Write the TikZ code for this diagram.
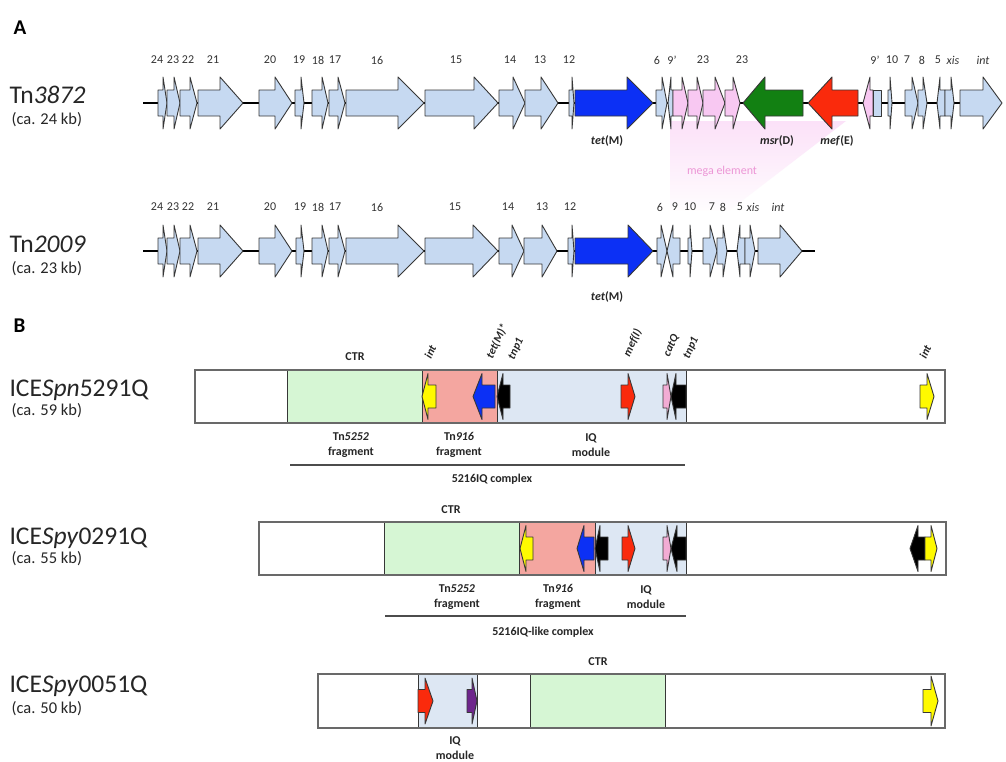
\documentclass[tikz,border=0pt]{standalone}
\usepackage{fontspec}
\setmainfont{Carlito}
\definecolor{genebl}{RGB}{198,217,241}
\definecolor{tetblue}{RGB}{12,48,245}
\definecolor{msrgreen}{RGB}{18,128,18}
\definecolor{mefred}{RGB}{250,42,12}
\definecolor{megapink}{RGB}{248,200,242}
\definecolor{megatext}{RGB}{236,150,214}
\definecolor{ctrgreen}{RGB}{214,246,212}
\definecolor{tnsalmon}{RGB}{244,166,160}
\definecolor{iqblue}{RGB}{221,231,243}
\definecolor{catpink}{RGB}{242,172,212}
\definecolor{mefipurple}{RGB}{110,38,140}
\definecolor{intyellow}{RGB}{255,250,0}
\definecolor{outl}{RGB}{55,55,55}
\definecolor{boxline}{RGB}{105,105,105}

% one gene arrow: start, head base, tip, centre line, half body, half head, fill
\newcommand\genearr[7]{%
  \draw[geneline,fill=#7] (#1,{#4-#5}) -- (#2,{#4-#5}) -- (#2,{#4-#6}) -- (#3,#4)
    -- (#2,{#4+#6}) -- (#2,{#4+#5}) -- (#1,{#4+#5}) -- cycle;}
\newcommand\gnA[4]{\genearr{#1}{#2}{#3}{103}{13}{26}{#4}}
\newcommand\gnB[4]{\genearr{#1}{#2}{#3}{251}{13}{26}{#4}}
\newcommand\gnC[5]{\genearr{#1}{#2}{#3}{#4}{11.5}{23}{#5}}

\tikzset{
  geneline/.style={draw=outl,line width=0.9pt,line join=round},
  backbone/.style={line width=2.6pt,black},
  gnum/.style={font=\fontsize{12}{12}\selectfont,text=black!80},
  glab/.style={font=\bfseries\fontsize{12}{12}\selectfont,text=black!85},
  elname/.style={anchor=west,font=\fontsize{25.5}{25.5}\selectfont,text=black!85},
  elsize/.style={anchor=west,font=\fontsize{16.5}{16.5}\selectfont,text=black!85},
  panel/.style={anchor=west,font=\bfseries\fontsize{21}{21}\selectfont},
  rot/.style={rotate=65,anchor=west,font=\bfseries\itshape\fontsize{11.5}{11.5}\selectfont,text=black!85},
  seglab/.style={align=center,font=\bfseries\fontsize{12}{15}\selectfont,text=black!85},
  divider/.style={draw=outl,line width=1pt},
  frame/.style={draw=boxline,line width=1.4pt},
  bracket/.style={draw=black!70,line width=1.4pt}
}

\begin{document}
\begin{tikzpicture}[x=1pt,y=-1pt]
\useasboundingbox[fill=white] (0,0) rectangle (1006,761);

% ---------------- panel A ----------------
\node[panel] (pA) at (10,28) {A};

% shaded wedge for the inserted mega element
\shade[top color=megapink!55,bottom color=megapink!5]
  (670,121) -- (846,121) -- (730,210) -- (670,210) -- cycle;
\node[font=\fontsize{12}{12}\selectfont,text=megatext] (mega) at (722,171) {mega element};

% Tn3872
\node[elname] (tn1) at (6,95) {Tn\textit{3872}};
\node[elsize] (tn1s) at (8,120) {(ca. 24 kb)};
\draw[backbone] (143,103) -- (1001,103);
\gnA{158}{163}{167}{genebl}
\gnA{167}{174}{180}{genebl}
\gnA{180}{190}{197}{genebl}
\gnA{198}{220}{243}{genebl}
\gnA{259}{275}{292}{genebl}
\gnA{295}{301}{304}{genebl}
\gnA{312}{322}{328}{genebl}
\gnA{329}{338}{345}{genebl}
\gnA{346}{398}{424}{genebl}
\gnA{425}{474}{498}{genebl}
\gnA{499}{513}{525}{genebl}
\gnA{525}{541}{558}{genebl}
\gnA{569}{572}{574}{genebl}
\gnA{575}{627}{653}{tetblue}
\gnA{656}{662}{667}{genebl}
\gnA{673}{671}{668}{genebl}
\gnA{673}{682}{688}{megapink}
\gnA{688}{697}{703}{megapink}
\gnA{703}{715}{725}{megapink}
\gnA{725}{733}{740}{megapink}
\gnA{803}{765}{743}{msrgreen}
\gnA{858}{832}{808}{mefred}
\gnA{873}{870}{863}{megapink}
\draw[geneline,fill=genebl] (873,90) rectangle (881,116);
\gnA{888}{890}{892}{genebl}
\gnA{905}{912}{918}{genebl}
\gnA{918}{923}{927}{genebl}
\gnA{945}{940}{937}{genebl}
\gnA{945}{951}{954}{genebl}
\gnA{960}{983}{1002}{genebl}

\foreach \x/\t in {157/24,173/23,188/22,213/21,270/20,299/19,318/18,335/17,
  377/16,456/15,510/14,540/13,569/12,657/6,672/9’,703/23,742/23,875/9’,
  892/10,907/7,922/8,938/5}
  \node[gnum] at (\x,60) {\t};
\node[gnum] (a-xis) at (953,60) {\textit{xis}};
\node[gnum] (a-int) at (983,60) {\textit{int}};
\node[glab] (a-tet) at (607,141) {\textit{tet}(M)};
\node[glab] (a-msr) at (777,141) {\textit{msr}(D)};
\node[glab] (a-mef) at (837,141) {\textit{mef}(E)};

% Tn2009
\node[elname] (tn2) at (6,244) {Tn\textit{2009}};
\node[elsize] (tn2s) at (8,269) {(ca. 23 kb)};
\draw[backbone] (143,251) -- (815,251);
\gnB{158}{163}{167}{genebl}
\gnB{167}{174}{180}{genebl}
\gnB{180}{190}{197}{genebl}
\gnB{198}{220}{243}{genebl}
\gnB{259}{275}{292}{genebl}
\gnB{296}{301}{304}{genebl}
\gnB{312}{322}{328}{genebl}
\gnB{329}{338}{345}{genebl}
\gnB{346}{398}{424}{genebl}
\gnB{425}{473}{498}{genebl}
\gnB{499}{512}{524}{genebl}
\gnB{524}{542}{557}{genebl}
\gnB{568}{572}{574}{genebl}
\gnB{575}{628}{653}{tetblue}
\gnB{657}{661}{667}{genebl}
\gnB{680}{673}{667}{genebl}
\gnB{688}{690}{692}{genebl}
\gnB{703}{710}{717}{genebl}
\gnB{717}{723}{727}{genebl}
\gnB{745}{740}{737}{genebl}
\gnB{745}{750}{755}{genebl}
\gnB{758}{780}{802}{genebl}

\foreach \x/\t in {157/24,173/23,188/22,213/21,270/20,300/19,318/18,335/17,
  377/16,455/15,508/14,542/13,570/12,660/6,675/9,690/10,712/7,723/8,740/5}
  \node[gnum] at (\x,207) {\t};
\node[gnum] (b-xis) at (753,207) {\textit{xis}};
\node[gnum] (b-int) at (778,207) {\textit{int}};
\node[glab] (b-tet) at (607,297) {\textit{tet}(M)};

% ---------------- panel B ----------------
\node[panel] (pB) at (10,326) {B};

% ICESpn5291Q
\node[elname] (ice1) at (6,390) {ICE\textit{Spn}5291Q};
\node[elsize] (ice1s) at (8,411) {(ca. 59 kb)};
\fill[ctrgreen] (287,370) rectangle (422,423);
\fill[tnsalmon] (422,370) rectangle (497,423);
\fill[iqblue] (497,370) rectangle (686,423);
\foreach \x in {287,422,497,686} \draw[divider] (\x,370) -- (\x,423);
\draw[frame] (195,370) rectangle (945,423);
\gnC{436}{428}{422}{396.5}{intyellow}
\gnC{495}{482}{473}{396.5}{tetblue}
\gnC{510}{503}{497}{396.5}{black}
\gnC{621}{628}{635}{396.5}{mefred}
\gnC{663}{667}{671}{396.5}{catpink}
\gnC{686}{676}{671}{396.5}{black}
\gnC{920}{927}{934}{396.5}{intyellow}
\node[rot] at (426,361) {int};
\node[rot] at (488,361) {tet(M)*};
\node[rot] at (510,362) {tnp1};
\node[rot] at (625,359) {mef(I)};
\node[rot] at (665,359) {catQ};
\node[rot] at (685,361) {tnp1};
\node[rot] at (921,361) {int};
\node[seglab] (ctr1) at (355,357) {CTR};
\node[seglab] (f1a) at (351,445) {Tn\textit{5252}\\fragment};
\node[seglab] (f1b) at (459,445) {Tn\textit{916}\\fragment};
\node[seglab] (f1c) at (591,445) {IQ\\module};
\draw[bracket] (290,465) -- (685,465);
\node[seglab] (cx1) at (492,479) {5216IQ complex};

% ICESpy0291Q
\node[elname] (ice2) at (6,538) {ICE\textit{Spy}0291Q};
\node[elsize] (ice2s) at (8,559) {(ca. 55 kb)};
\fill[ctrgreen] (384,522) rectangle (519,575);
\fill[tnsalmon] (519,522) rectangle (595,575);
\fill[iqblue] (595,522) rectangle (686,575);
\foreach \x in {384,519,595,686} \draw[divider] (\x,522) -- (\x,575);
\draw[frame] (259,522) rectangle (946,575);
\gnC{533}{526}{520}{548.5}{intyellow}
\gnC{594}{584}{577}{548.5}{tetblue}
\gnC{608}{600}{595}{548.5}{black}
\gnC{622}{628}{635}{548.5}{mefred}
\gnC{663}{667}{671}{548.5}{catpink}
\gnC{686}{677}{671}{548.5}{black}
\gnC{925}{918}{910}{548.5}{black}
\gnC{925}{931}{937}{548.5}{intyellow}
\node[seglab] (ctr2) at (451,510) {CTR};
\node[seglab] (f2a) at (457,597) {Tn\textit{5252}\\fragment};
\node[seglab] (f2b) at (558,597) {Tn\textit{916}\\fragment};
\node[seglab] (f2c) at (646,597) {IQ\\module};
\draw[bracket] (385,616) -- (686,616);
\node[seglab] (cx2) at (543,632) {5216IQ-like complex};

% ICESpy0051Q
\node[elname] (ice3) at (6,686) {ICE\textit{Spy}0051Q};
\node[elsize] (ice3s) at (8,709) {(ca. 50 kb)};
\fill[iqblue] (418,674) rectangle (477,728);
\fill[ctrgreen] (530,674) rectangle (665,728);
\foreach \x in {418,477,530,665} \draw[divider] (\x,674) -- (\x,728);
\draw[frame] (318,674) rectangle (945,728);
\gnC{418}{425}{433}{701}{mefred}
\gnC{467}{472}{477}{701}{mefipurple}
\genearr{923}{931}{938}{701}{11.5}{25}{intyellow}
\node[seglab] (ctr3) at (598,662) {CTR};
\node[seglab] (f3c) at (455,748) {IQ\\module};
\end{tikzpicture}
\end{document}
